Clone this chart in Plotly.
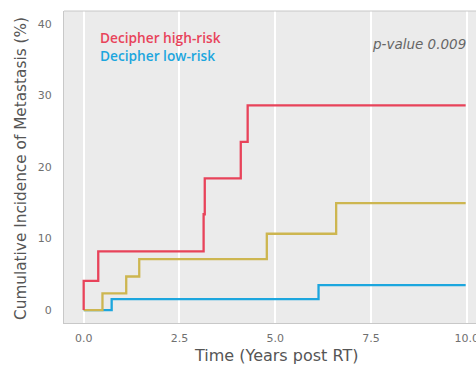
import plotly.graph_objects as go

# Data
high_x = [0, 0, 0.38, 3.13, 3.16, 4.10, 4.28, 9.97]
high_y = [0, 4.1, 8.2, 13.4, 18.4, 23.5, 28.6, 28.6]
mid_x = [0, 0.49, 1.11, 1.45, 4.78, 6.59, 9.97]
mid_y = [0, 2.33, 4.7, 7.13, 10.67, 14.96, 14.96]
low_x = [0, 0.73, 6.13, 9.97]
low_y = [0, 1.54, 3.5, 3.5]
x_ticks = [0, 2.5, 5.0, 7.5, 10.0]
x_tick_labels = ["0.0", "2.5", "5.0", "7.5", "10.0"]
y_ticks = [0, 10, 20, 30, 40]
legend_labels = ["Decipher high-risk", "Decipher low-risk"]

RED = "#E8435A"
BLUE = "#1CA6DE"
GOLD = "#CDB650"
FONT = "DejaVu Sans"
LEG_FONT = "Open Sans"
TICK_COLOR = "#707070"

fig = go.Figure()
fig.add_trace(go.Scatter(x=low_x, y=low_y, mode="lines", line=dict(color=BLUE, width=2.3, shape="hv")))
fig.add_trace(go.Scatter(x=mid_x, y=mid_y, mode="lines", line=dict(color=GOLD, width=2.3, shape="hv")))
fig.add_trace(go.Scatter(x=high_x, y=high_y, mode="lines", line=dict(color=RED, width=2.3, shape="hv")))

fig.update_layout(
    width=476, height=367,
    margin=dict(l=64, r=0, t=11, b=44),
    paper_bgcolor="white",
    plot_bgcolor="#EBEBEB",
    showlegend=False,
    font=dict(family=FONT, color=TICK_COLOR),
    xaxis=dict(
        range=[-0.514, 10.24],
        tickvals=x_ticks, ticktext=x_tick_labels,
        showgrid=True, gridcolor="white", gridwidth=1.5,
        zeroline=False,
        showline=True, linecolor="#C8C8C8", linewidth=1, mirror=False,
        tickfont=dict(size=11, color=TICK_COLOR, family=FONT),
        ticks="",
        ticklabeloverflow="allow",
        ticklabelstandoff=5,
        automargin=False,
    ),
    yaxis=dict(
        range=[-1.8, 41.8],
        tickvals=y_ticks,
        showgrid=False,
        zeroline=False,
        showline=True, linecolor="#C8C8C8", linewidth=1,
        tickfont=dict(size=11, color=TICK_COLOR, family=FONT),
        ticks="",
        ticklabelstandoff=9,
        automargin=False,
    ),
    shapes=[dict(type="line", xref="paper", yref="paper", x0=0, x1=1, y0=1, y1=1,
                 line=dict(color="#C8C8C8", width=1))],
)

legend_text = (f"<span style='color:{RED}'>{legend_labels[0]}</span><br>"
               f"<span style='color:{BLUE}'>{legend_labels[1]}</span>")
fig.add_annotation(text=legend_text, xref="paper", yref="paper", align="left",
                   x=(98 - 64) / 412, y=(323 - 46.5) / 312, xanchor="left", yanchor="middle",
                   showarrow=False, font=dict(size=13.7, color=RED, family=LEG_FONT, weight=600))
fig.add_annotation(text="<i>p-value 0.009</i>", xref="paper", yref="paper",
                   x=(468 - 64) / 412, y=(323 - 44) / 312, xanchor="right", yanchor="middle",
                   showarrow=False, font=dict(size=13.5, color="#666666", family=FONT))
fig.add_annotation(text="Time (Years post RT)", xref="paper", yref="paper",
                   x=(276 - 64) / 412, y=-(355 - 323) / 312, xanchor="center", yanchor="middle",
                   showarrow=False, font=dict(size=16, color="#555555", family=FONT))
fig.add_annotation(text="Cumulative Incidence of Metastasis (%)", xref="paper", yref="paper",
                   x=-(64 - 21) / 412, y=(323 - 169) / 312, xanchor="center", yanchor="middle",
                   textangle=-90, showarrow=False,
                   font=dict(size=15.3, color="#555555", family=FONT))

fig.write_html("out.html")
